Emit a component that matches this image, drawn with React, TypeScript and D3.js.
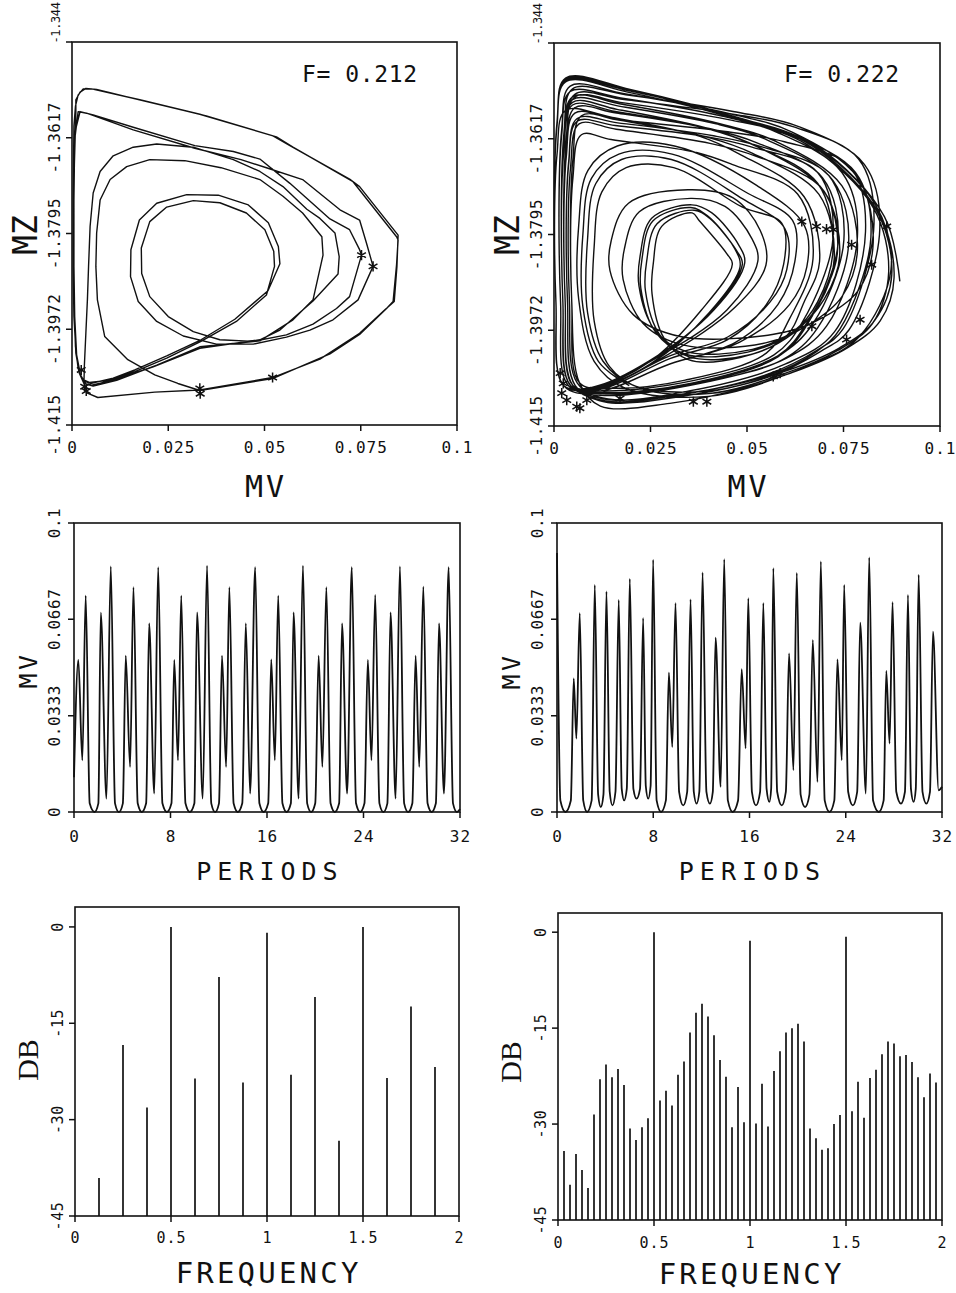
import React from "react";
import * as d3 from "d3";

type P = [number, number];

const MONO = "'DejaVu Sans Mono', 'Liberation Mono', monospace";
const SERIF = "'Liberation Serif', 'DejaVu Serif', serif";
const INK = "#111";

// ---------------- axis ticks / labels ----------------
const portraitXTicks = [0, 0.025, 0.05, 0.075, 0.1];
const portraitXLabels = ["0", "0.025", "0.05", "0.075", "0.1"];
const portraitYTicks = [-1.415, -1.39725, -1.3795, -1.36175, -1.344];
const portraitYLabels = ["-1.415", "-1.3972", "-1.3795", "-1.3617", "-1.344"];

const periodTicks = [0, 8, 16, 24, 32];
const periodLabels = ["0", "8", "16", "24", "32"];
const mvTicks = [0, 0.0333, 0.0667, 0.1];
const mvLabels = ["0", "0.0333", "0.0667", "0.1"];

const freqTicks = [0, 0.5, 1, 1.5, 2];
const freqLabels = ["0", "0.5", "1", "1.5", "2"];
const dbTicks = [-45, -30, -15, 0];
const dbLabels = ["-45", "-30", "-15", "0"];

const forcingLeft = "F= 0.212";
const forcingRight = "F= 0.222";

// ---------------- phase portrait, F = 0.212 (MV, MZ) ----------------
const orbitLeft: P[] = [
  [0.0010,-1.3572],[0.0006,-1.3671],[0.0004,-1.3794],[0.0005,-1.3918],[0.0009,-1.4005],[0.0016,-1.4045],[0.0026,-1.4065],[0.0045,-1.4071],
  [0.0099,-1.4067],[0.0163,-1.4051],[0.0246,-1.4026],[0.0335,-1.3995],[0.0427,-1.3958],[0.0505,-1.3909],[0.0526,-1.3856],
  [0.0524,-1.3828],[0.0501,-1.3788],[0.0453,-1.3757],[0.0384,-1.3738],[0.0315,-1.3734],[0.0246,-1.3746],[0.0202,-1.3773],[0.0180,-1.3822],[0.0181,-1.3869],[0.0202,-1.3912],[0.0250,-1.3949],[0.0315,-1.3977],[0.0384,-1.3992],[0.0471,-1.3995],[0.0557,-1.3983],[0.0626,-1.3963],[0.0687,-1.3934],[0.0721,-1.3912],[0.0752,-1.3835],
  [0.0747,-1.3825],[0.0721,-1.3788],[0.0670,-1.3768],[0.0566,-1.3702],[0.0488,-1.3657],[0.0419,-1.3643],[0.0319,-1.3632],[0.0159,-1.3598],[0.0055,-1.3575],[0.0021,-1.3569],
  [0.0007,-1.3609],[0.0004,-1.3733],[0.0004,-1.3856],[0.0006,-1.3949],[0.0010,-1.4017],[0.0019,-1.4054],[0.0031,-1.4073],[0.0051,-1.4076],
  [0.0107,-1.4067],[0.0211,-1.4042],[0.0332,-1.4008],[0.0488,-1.3992],[0.0540,-1.3974],[0.0626,-1.3920],[0.0691,-1.3870],
  [0.0694,-1.3838],[0.0683,-1.3794],[0.0644,-1.3767],[0.0610,-1.3750],[0.0548,-1.3708],[0.0488,-1.3680],[0.0419,-1.3658],[0.0315,-1.3635],[0.0220,-1.3629],[0.0159,-1.3635],[0.0107,-1.3651],[0.0073,-1.3680],[0.0055,-1.3720],[0.0047,-1.3782],[0.0043,-1.3856],[0.0040,-1.3918],[0.0036,-1.3980],[0.0032,-1.4042],[0.0031,-1.4073],[0.0040,-1.4091],[0.0067,-1.4099],[0.0215,-1.4089],[0.0332,-1.4085],[0.0521,-1.4062],[0.0644,-1.4028],[0.0747,-1.3980],[0.0812,-1.3937],[0.0837,-1.3921],[0.0844,-1.3856],[0.0847,-1.3798],
  [0.0747,-1.3708],[0.0721,-1.3694],[0.0566,-1.3632],[0.0522,-1.3614],[0.0332,-1.3574],[0.0176,-1.3547],[0.0051,-1.3527],[0.0029,-1.3527],[0.0016,-1.3538],[0.0009,-1.3559],
  [0.0005,-1.3596],[0.0003,-1.3733],[0.0003,-1.3856],[0.0005,-1.3949],[0.0010,-1.4011],[0.0017,-1.4048],[0.0029,-1.4068],[0.0048,-1.4073],
  [0.0107,-1.4063],[0.0163,-1.4048],[0.0246,-1.4022],[0.0335,-1.3992],[0.0423,-1.3954],[0.0509,-1.3901],[0.0540,-1.3851],
  [0.0536,-1.3819],[0.0510,-1.3775],[0.0458,-1.3742],[0.0380,-1.3724],[0.0298,-1.3723],[0.0220,-1.3739],[0.0175,-1.3770],[0.0153,-1.3825],[0.0152,-1.3875],[0.0172,-1.3921],[0.0220,-1.3958],[0.0289,-1.3985],[0.0375,-1.4000],[0.0471,-1.4000],[0.0557,-1.3987],[0.0618,-1.3974],[0.0678,-1.3955],[0.0743,-1.3918],[0.0782,-1.3856],
  [0.0765,-1.3813],[0.0747,-1.3770],[0.0696,-1.3751],[0.0599,-1.3695],[0.0509,-1.3674],[0.0439,-1.3658],[0.0319,-1.3637],[0.0159,-1.3603],[0.0038,-1.3572],[0.0016,-1.3569],
  [0.0007,-1.3621],[0.0005,-1.3733],[0.0005,-1.3856],[0.0007,-1.3949],[0.0012,-1.4020],[0.0022,-1.4057],[0.0036,-1.4074],[0.0055,-1.4078],
  [0.0116,-1.4067],[0.0220,-1.4039],[0.0332,-1.4005],[0.0488,-1.3994],[0.0574,-1.3955],[0.0626,-1.3918],[0.0652,-1.3835],
  [0.0649,-1.3801],[0.0599,-1.3757],[0.0548,-1.3726],[0.0488,-1.3695],[0.0387,-1.3673],[0.0293,-1.3660],[0.0202,-1.3658],[0.0142,-1.3671],[0.0099,-1.3695],[0.0073,-1.3733],[0.0064,-1.3794],[0.0062,-1.3856],[0.0066,-1.3918],[0.0085,-1.3986],[0.0145,-1.4029],[0.0215,-1.4057],[0.0275,-1.4073],[0.0332,-1.4086],[0.0521,-1.4064],[0.0670,-1.4018],[0.0747,-1.3982],[0.0817,-1.3934],[0.0834,-1.3921],[0.0843,-1.3853],[0.0847,-1.3807],
  [0.0843,-1.3801],[0.0730,-1.3699],[0.0574,-1.3635],[0.0531,-1.3616],[0.0349,-1.3577],[0.0202,-1.3552],[0.0064,-1.3528],[0.0036,-1.3526],[0.0021,-1.3533],[0.0010,-1.3547],[0.0010,-1.3572],
];
const starsLeft: P[] = [
  [0.0752,-1.3835],[0.0782,-1.3856],[0.0521,-1.4062],[0.0332,-1.4082],[0.0333,-1.4092],[0.0024,-1.4048],[0.0033,-1.4079],[0.0037,-1.4087],
];

// ---------------- phase portrait, F = 0.222 (MV, MZ) ----------------
const orbitRight: P[] = [
  [0.0896,-1.3882],[0.0856,-1.3762],[0.0686,-1.3634],[0.0493,-1.3582],[0.0197,-1.3526],[0.0030,-1.3505],[0.0008,-1.3585],[0.0005,-1.3920],[0.0025,-1.4075],
  [0.0100,-1.4080],[0.0250,-1.4030],[0.0382,-1.3935],
  [0.0462,-1.3850],[0.0447,-1.3830],[0.0377,-1.3770],[0.0358,-1.3755],[0.0279,-1.3780],[0.0257,-1.3850],[0.0254,-1.3905],[0.0285,-1.3987],[0.0348,-1.4027],[0.0482,-1.4023],[0.0600,-1.3985],[0.0648,-1.3920],
  [0.0688,-1.3845],[0.0648,-1.3725],[0.0478,-1.3645],[0.0378,-1.3613],[0.0151,-1.3578],[0.0030,-1.3565],[0.0008,-1.3645],[0.0005,-1.3920],[0.0025,-1.4075],
  [0.0120,-1.4093],[0.0350,-1.4075],[0.0600,-1.4025],[0.0706,-1.3965],
  [0.0786,-1.3800],[0.0746,-1.3680],[0.0576,-1.3605],[0.0432,-1.3575],[0.0173,-1.3542],[0.0042,-1.3530],[0.0020,-1.3610],[0.0017,-1.3920],[0.0037,-1.4075],
  [0.0125,-1.4090],[0.0355,-1.4072],[0.0590,-1.4028],[0.0683,-1.3968],
  [0.0763,-1.3815],[0.0723,-1.3695],[0.0553,-1.3620],[0.0420,-1.3590],[0.0168,-1.3557],[0.0048,-1.3545],[0.0026,-1.3625],[0.0023,-1.3920],[0.0043,-1.4075],
  [0.0130,-1.4088],[0.0360,-1.4070],[0.0580,-1.4020],[0.0654,-1.3960],
  [0.0734,-1.3830],[0.0694,-1.3710],[0.0524,-1.3650],[0.0404,-1.3626],[0.0161,-1.3600],[0.0065,-1.3590],[0.0043,-1.3670],[0.0040,-1.3920],[0.0060,-1.4070],
  [0.0140,-1.4100],[0.0350,-1.4085],[0.0600,-1.4035],[0.0727,-1.3975],
  [0.0807,-1.3790],[0.0767,-1.3670],[0.0597,-1.3623],[0.0444,-1.3604],[0.0178,-1.3583],[0.0071,-1.3575],[0.0049,-1.3655],[0.0046,-1.3920],[0.0066,-1.4070],
  [0.0150,-1.4080],[0.0340,-1.4065],[0.0550,-1.4015],[0.0611,-1.3950],
  [0.0671,-1.3840],[0.0631,-1.3720],[0.0461,-1.3665],[0.0369,-1.3643],[0.0148,-1.3619],[0.0071,-1.3610],[0.0049,-1.3690],[0.0046,-1.3920],[0.0066,-1.4070],
  [0.0120,-1.4113],[0.0300,-1.4108],[0.0500,-1.4078],[0.0670,-1.4035],[0.0790,-1.3985],
  [0.0873,-1.3860],[0.0833,-1.3740],[0.0663,-1.3625],[0.0480,-1.3579],[0.0192,-1.3528],[0.0030,-1.3510],[0.0008,-1.3590],[0.0005,-1.3920],[0.0025,-1.4075],
  [0.0100,-1.4082],[0.0250,-1.4035],[0.0402,-1.3940],
  [0.0482,-1.3855],[0.0467,-1.3820],[0.0397,-1.3760],[0.0354,-1.3745],[0.0256,-1.3770],[0.0228,-1.3840],[0.0225,-1.3895],[0.0264,-1.3977],[0.0341,-1.4017],[0.0502,-1.4013],[0.0620,-1.3975],[0.0683,-1.3920],
  [0.0723,-1.3820],[0.0683,-1.3700],[0.0513,-1.3628],[0.0398,-1.3599],[0.0159,-1.3567],[0.0048,-1.3555],[0.0026,-1.3635],[0.0023,-1.3920],[0.0043,-1.4075],
  [0.0130,-1.4090],[0.0360,-1.4072],[0.0580,-1.4022],[0.0656,-1.3962],
  [0.0736,-1.3810],[0.0696,-1.3690],[0.0526,-1.3625],[0.0405,-1.3599],[0.0162,-1.3570],[0.0054,-1.3560],[0.0032,-1.3640],[0.0029,-1.3920],[0.0049,-1.4075],
  [0.0130,-1.4103],[0.0330,-1.4092],[0.0550,-1.4055],[0.0680,-1.4010],[0.0749,-1.3970],
  [0.0829,-1.3775],[0.0789,-1.3655],[0.0619,-1.3595],[0.0456,-1.3571],[0.0182,-1.3545],[0.0054,-1.3535],[0.0032,-1.3615],[0.0029,-1.3920],[0.0049,-1.4075],
  [0.0120,-1.4080],[0.0300,-1.4020],[0.0450,-1.3985],[0.0560,-1.3920],
  [0.0603,-1.3860],[0.0598,-1.3784],[0.0489,-1.3729],[0.0304,-1.3656],[0.0175,-1.3656],[0.0108,-1.3701],[0.0087,-1.3803],[0.0087,-1.3940],[0.0127,-1.4030],[0.0207,-1.4075],
  [0.0400,-1.4085],[0.0600,-1.4048],[0.0740,-1.4005],[0.0830,-1.3955],
  [0.0875,-1.3870],[0.0835,-1.3750],[0.0665,-1.3629],[0.0481,-1.3581],[0.0193,-1.3527],[0.0030,-1.3508],[0.0008,-1.3588],[0.0005,-1.3920],[0.0025,-1.4075],
  [0.0100,-1.4078],[0.0250,-1.4028],[0.0414,-1.3935],
  [0.0494,-1.3848],[0.0479,-1.3815],[0.0409,-1.3755],[0.0357,-1.3740],[0.0253,-1.3765],[0.0223,-1.3835],[0.0220,-1.3890],[0.0261,-1.3972],[0.0343,-1.4012],[0.0514,-1.4008],[0.0630,-1.3970],[0.0700,-1.3915],
  [0.0740,-1.3835],[0.0700,-1.3715],[0.0530,-1.3633],[0.0407,-1.3600],[0.0163,-1.3563],[0.0048,-1.3550],[0.0026,-1.3630],[0.0023,-1.3920],[0.0043,-1.4075],
  [0.0130,-1.4085],[0.0360,-1.4066],[0.0570,-1.4018],[0.0643,-1.3958],
  [0.0723,-1.3800],[0.0683,-1.3680],[0.0513,-1.3633],[0.0398,-1.3614],[0.0159,-1.3593],[0.0060,-1.3585],[0.0038,-1.3665],[0.0035,-1.3920],[0.0055,-1.4075],
  [0.0130,-1.4105],[0.0340,-1.4094],[0.0560,-1.4058],[0.0690,-1.4012],[0.0764,-1.3972],
  [0.0844,-1.3785],[0.0804,-1.3665],[0.0634,-1.3595],[0.0464,-1.3567],[0.0186,-1.3536],[0.0048,-1.3525],[0.0026,-1.3605],[0.0023,-1.3920],[0.0043,-1.4075],
  [0.0110,-1.4080],[0.0260,-1.4032],[0.0469,-1.3930],
  [0.0549,-1.3852],[0.0534,-1.3787],[0.0464,-1.3727],[0.0347,-1.3712],[0.0193,-1.3737],[0.0148,-1.3807],[0.0145,-1.3862],[0.0206,-1.3944],[0.0327,-1.3984],[0.0569,-1.3980],[0.0680,-1.3955],[0.0787,-1.3900],
  [0.0827,-1.3810],[0.0787,-1.3690],[0.0617,-1.3605],[0.0455,-1.3571],[0.0182,-1.3534],[0.0042,-1.3520],[0.0020,-1.3600],[0.0017,-1.3920],[0.0037,-1.4075],
  [0.0120,-1.4082],[0.0300,-1.4025],[0.0450,-1.3990],[0.0550,-1.3925],
  [0.0595,-1.3850],[0.0590,-1.3774],[0.0487,-1.3744],[0.0310,-1.3671],[0.0187,-1.3671],[0.0124,-1.3716],[0.0104,-1.3818],[0.0104,-1.3955],[0.0144,-1.4040],[0.0224,-1.4080],
  [0.0400,-1.4090],[0.0600,-1.4052],[0.0735,-1.4010],[0.0825,-1.3960],
  [0.0867,-1.3865],[0.0827,-1.3745],[0.0657,-1.3629],[0.0477,-1.3582],[0.0191,-1.3531],[0.0030,-1.3512],[0.0008,-1.3592],[0.0005,-1.3920],[0.0025,-1.4075],
  [0.0100,-1.4080],[0.0250,-1.4030],[0.0448,-1.3935],
  [0.0528,-1.3845],[0.0513,-1.3803],[0.0443,-1.3743],[0.0354,-1.3728],[0.0221,-1.3753],[0.0182,-1.3823],[0.0179,-1.3878],[0.0231,-1.3960],[0.0336,-1.4000],[0.0548,-1.3996],[0.0660,-1.3962],[0.0746,-1.3910],
  [0.0786,-1.3825],[0.0746,-1.3705],[0.0576,-1.3623],[0.0432,-1.3590],[0.0173,-1.3553],[0.0048,-1.3540],[0.0026,-1.3620],[0.0023,-1.3920],[0.0043,-1.4075],
  [0.0120,-1.4085],[0.0300,-1.4035],[0.0480,-1.3995],[0.0610,-1.3925],
  [0.0655,-1.3855],[0.0649,-1.3779],[0.0525,-1.3704],[0.0312,-1.3631],[0.0164,-1.3631],[0.0088,-1.3676],[0.0064,-1.3778],[0.0064,-1.3915],[0.0104,-1.4030],[0.0184,-1.4080],
  [0.0400,-1.4095],[0.0620,-1.4050],[0.0760,-1.4005],[0.0845,-1.3955],
  [0.0881,-1.3875],[0.0841,-1.3755],[0.0671,-1.3631],[0.0485,-1.3581],[0.0194,-1.3527],[0.0030,-1.3507],[0.0008,-1.3587],[0.0005,-1.3920],[0.0025,-1.4075],
  [0.0100,-1.4078],[0.0250,-1.4030],[0.0408,-1.3938],
  [0.0488,-1.3850],[0.0473,-1.3825],[0.0403,-1.3765],[0.0363,-1.3750],[0.0267,-1.3775],[0.0240,-1.3845],[0.0237,-1.3900],[0.0275,-1.3982],[0.0350,-1.4022],[0.0508,-1.4018],[0.0620,-1.3978],[0.0686,-1.3925],
  [0.0726,-1.3840],[0.0686,-1.3720],[0.0516,-1.3645],[0.0399,-1.3615],[0.0160,-1.3582],[0.0054,-1.3570],[0.0032,-1.3650],[0.0029,-1.3920],[0.0049,-1.4075],
  [0.0130,-1.4088],[0.0360,-1.4070],[0.0580,-1.4020],[0.0671,-1.3960],
  [0.0751,-1.3805],[0.0711,-1.3685],[0.0541,-1.3633],[0.0413,-1.3612],[0.0165,-1.3588],[0.0060,-1.3580],[0.0038,-1.3660],[0.0035,-1.3920],[0.0055,-1.4075],
  [0.0130,-1.4100],[0.0340,-1.4090],[0.0560,-1.4055],[0.0680,-1.4012],[0.0741,-1.3970],
  [0.0821,-1.3800],[0.0781,-1.3680],[0.0611,-1.3610],[0.0452,-1.3582],[0.0181,-1.3551],[0.0054,-1.3540],[0.0032,-1.3620],[0.0029,-1.3920],[0.0049,-1.4075],
  [0.0120,-1.4085],[0.0300,-1.4035],[0.0470,-1.3995],[0.0580,-1.3925],
  [0.0624,-1.3845],[0.0618,-1.3769],[0.0503,-1.3719],[0.0306,-1.3646],[0.0168,-1.3646],[0.0097,-1.3691],[0.0075,-1.3793],[0.0075,-1.3930],[0.0115,-1.4030],[0.0195,-1.4075],
];
const starsRight: P[] = [
  [0.0642,-1.3771],[0.0680,-1.3780],[0.0706,-1.3785],[0.0724,-1.3786],[0.0771,-1.3814],[0.0823,-1.3851],
  [0.0862,-1.3780],[0.0793,-1.3953],[0.0758,-1.3990],[0.0668,-1.3965],[0.0586,-1.4052],[0.0568,-1.4058],
  [0.0361,-1.4105],[0.0396,-1.4105],[0.0059,-1.4114],[0.0033,-1.4102],[0.0020,-1.4089],[0.0024,-1.4071],
  [0.0016,-1.4052],[0.0067,-1.4117],[0.0085,-1.4102],[0.0171,-1.4099],
];

// ---------------- MV time series (periods, MV) ----------------
const seriesLeft: P[] = [
  [0, 0.012],[0.36, 0.0526],[0.69, 0.0179],[0.97, 0.0749],[1.30, 0.003],[1.70, 0],[2.02, 0.003],
  [2.22, 0.0690],[2.69, 0.0046],[3.05, 0.0850],[3.40, 0.003],[3.72, 0],[4.05, 0.003],
  [4.29, 0.0541],[4.65, 0.0156],[4.93, 0.0778],[5.28, 0.003],[5.62, 0],[5.98, 0.003],
  [6.23, 0.0653],[6.65, 0.0064],[6.98, 0.0847],[7.33, 0.003],[7.70, 0],[8.08, 0.003],
  [8.31, 0.0526],[8.62, 0.0179],[8.89, 0.0749],[9.24, 0.003],[9.60, 0],[9.98, 0.003],
  [10.20, 0.0691],[10.67, 0.0046],[11.03, 0.0852],[11.38, 0.003],[11.70, 0],[12.02, 0.003],
  [12.27, 0.0541],[12.61, 0.0156],[12.88, 0.0778],[13.23, 0.003],[13.58, 0],[13.95, 0.003],
  [14.24, 0.0653],[14.60, 0.0064],[15.02, 0.0847],[15.37, 0.003],[15.72, 0],[16.10, 0.003],
  [16.35, 0.0528],[16.65, 0.0179],[16.93, 0.0749],[17.28, 0.003],[17.62, 0],[17.98, 0.003],
  [18.20, 0.0691],[18.62, 0.0046],[18.98, 0.0852],[19.33, 0.003],[19.66, 0],[20.00, 0.003],
  [20.28, 0.0541],[20.59, 0.0156],[20.92, 0.0778],[21.27, 0.003],[21.62, 0],[21.98, 0.003],
  [22.22, 0.0653],[22.64, 0.0064],[23.03, 0.0847],[23.38, 0.003],[23.72, 0],[24.08, 0.003],
  [24.36, 0.0526],[24.66, 0.0179],[24.97, 0.0751],[25.32, 0.003],[25.65, 0],[25.98, 0.003],
  [26.24, 0.0691],[26.66, 0.0046],[27.02, 0.0850],[27.37, 0.003],[27.70, 0],[28.05, 0.003],
  [28.32, 0.0541],[28.62, 0.0156],[28.96, 0.0780],[29.31, 0.003],[29.65, 0],[30.00, 0.003],
  [30.26, 0.0653],[30.67, 0.0064],[31.06, 0.0847],[31.42, 0.003],[31.75, 0],[32.0, 0.001],
];
const seriesRight: P[] = [
  [0, 0.0896],[0.28, 0.004],[0.70, 0],[1.15, 0.004],
  [1.39, 0.0462],[1.61, 0.0254],[1.89, 0.0688],[2.18, 0.004],[2.50, 0],[2.88, 0.004],
  [3.14, 0.0786],[3.42, 0.006],[3.64, 0.0017],[3.86, 0.006],
  [4.11, 0.0763],[4.38, 0.007],[4.61, 0.0023],[4.86, 0.007],
  [5.13, 0.0734],[5.38, 0.008],[5.58, 0.0040],[5.80, 0.008],
  [6.05, 0.0807],[6.35, 0.008],[6.61, 0.0046],[6.90, 0.008],
  [7.16, 0.0671],[7.38, 0.009],[7.58, 0.0046],[7.78, 0.009],
  [7.99, 0.0873],[8.28, 0.004],[8.65, 0],[9.05, 0.004],
  [9.30, 0.0482],[9.58, 0.0225],[9.85, 0.0723],[10.15, 0.007],[10.49, 0.0023],[10.82, 0.007],
  [11.10, 0.0736],[11.37, 0.007],[11.60, 0.0029],[11.83, 0.007],
  [12.10, 0.0829],[12.42, 0.007],[12.71, 0.0029],[12.95, 0.007],
  [13.18, 0.0603],[13.60, 0.0087],[13.90, 0.0875],[14.20, 0.004],[14.60, 0],[15.05, 0.004],
  [15.35, 0.0494],[15.68, 0.0220],[15.90, 0.0740],[16.20, 0.007],[16.54, 0.0023],[16.88, 0.007],
  [17.15, 0.0723],[17.42, 0.008],[17.65, 0.0035],[17.80, 0.008],
  [17.98, 0.0844],[18.30, 0.007],[18.68, 0.0023],[19.02, 0.007],
  [19.29, 0.0549],[19.65, 0.0145],[19.93, 0.0827],[20.25, 0.006],[20.62, 0.0017],[20.98, 0.006],
  [21.26, 0.0595],[21.65, 0.0104],[21.93, 0.0867],[22.25, 0.004],[22.65, 0],[23.05, 0.004],
  [23.31, 0.0528],[23.67, 0.0179],[23.87, 0.0786],[24.20, 0.007],[24.59, 0.0023],[24.95, 0.007],
  [25.20, 0.0655],[25.67, 0.0064],[25.95, 0.0881],[26.27, 0.004],[26.75, 0],[27.15, 0.004],
  [27.37, 0.0488],[27.64, 0.0237],[27.89, 0.0726],[28.20, 0.007],[28.59, 0.0029],[28.92, 0.007],
  [29.17, 0.0751],[29.42, 0.008],[29.64, 0.0035],[29.82, 0.008],
  [30.06, 0.0821],[30.38, 0.007],[30.70, 0.0029],[31.00, 0.007],
  [31.25, 0.0624],[31.72, 0.0075],[32.0, 0.0087],
];

// ---------------- power spectra (frequency, dB) ----------------
const specLeftFreq = [0.125, 0.25, 0.375, 0.5, 0.625, 0.75, 0.875, 1, 1.125, 1.25, 1.375, 1.5, 1.625, 1.75, 1.875];
const specLeftDb = [-39.1, -18.4, -28.1, 0, -23.6, -7.8, -24.2, -0.9, -23.0, -10.9, -33.3, 0, -23.5, -12.4, -21.8];
const specRightFreq = d3.range(1, 64).map((k) => k / 32);
const specRightDb = [
  -34.2, -39.5, -34.7, -37.2, -40.0, -28.5, -23.0, -20.7, -22.7, -21.4, -23.9, -30.7, -32.5, -30.5, -29.1, 0,
  -26.3, -24.8, -27.1, -22.3, -20.2, -15.7, -12.6, -11.2, -13.2, -16.1, -20.0, -22.6, -30.5, -24.2, -29.7, -1.35,
  -29.9, -23.7, -30.4, -21.7, -18.6, -15.7, -15.0, -14.3, -17.1, -30.7, -32.2, -34.0, -33.8, -30.0, -28.6, -0.7,
  -28.0, -23.4, -29.0, -22.8, -21.5, -19.1, -17.1, -17.4, -19.4, -19.2, -20.3, -22.7, -25.8, -22.1, -23.5,
];

// ---------------- layout ----------------
type Box = { x0: number; x1: number; y0: number; y1: number };

type AxesProps = {
  box: Box;
  xs: d3.ScaleLinear<number, number>;
  ys: d3.ScaleLinear<number, number>;
  xTicks: number[];
  xLabels: string[];
  yTicks: number[];
  yLabels: string[];
  tickSize: number;
  xLabelDy: number;
  yLabelDx: number;
  topStart?: boolean;
  xTitle: string;
  xTitleY: number;
  xTitleSize: number;
  xTitleSpacing: number;
  yTitle: string;
  yTitleX: number;
  yTitleY: number;
  yTitleSize: number;
  yTitleSpacing: number;
  yTitleFont?: string;
};

function Axes(p: AxesProps) {
  const { box } = p;
  const cx = (box.x0 + box.x1) / 2;
  return (
    <g fill={INK}>
      <rect x={box.x0} y={box.y0} width={box.x1 - box.x0} height={box.y1 - box.y0} fill="none" stroke={INK} strokeWidth={1.6} />
      {p.xTicks.map((t, i) => (
        <g key={"xt" + i}>
          <line x1={p.xs(t)} x2={p.xs(t)} y1={box.y1} y2={box.y1 + 6} stroke={INK} strokeWidth={1.5} />
          <text x={p.xs(t) + 0.5} y={box.y1 + p.xLabelDy} textAnchor="middle" fontSize={p.tickSize} letterSpacing={1} fontFamily={MONO}>
            {p.xLabels[i]}
          </text>
        </g>
      ))}
      {p.yTicks.map((t, i) => {
        const isTop = p.topStart && i === p.yTicks.length - 1;
        return (
          <g key={"yt" + i}>
            <line x1={box.x0 - 6} x2={box.x0} y1={p.ys(t)} y2={p.ys(t)} stroke={INK} strokeWidth={1.5} />
            <text
              transform={`translate(${box.x0 - p.yLabelDx},${isTop ? p.ys(t) - 19 : p.ys(t)}) rotate(-90)`}
              textAnchor="middle"
              fontSize={isTop ? 12 : p.tickSize}
              letterSpacing={isTop ? -0.4 : 0.6}
              fontFamily={MONO}
            >
              {p.yLabels[i]}
            </text>
          </g>
        );
      })}
      <text x={cx + p.xTitleSpacing / 2} y={p.xTitleY} textAnchor="middle" fontSize={p.xTitleSize} letterSpacing={p.xTitleSpacing} fontFamily={MONO}>
        {p.xTitle}
      </text>
      <text
        transform={`translate(${p.yTitleX},${p.yTitleY}) rotate(-90)`}
        textAnchor="middle"
        fontSize={p.yTitleSize}
        letterSpacing={p.yTitleSpacing}
        fontFamily={p.yTitleFont ?? MONO}
      >
        {p.yTitle}
      </text>
    </g>
  );
}

const starType: d3.SymbolType = (d3 as any).symbolAsterisk ?? d3.symbolCross;

function Portrait({ box, orbit, stars, fLabel, smooth }: { box: Box; orbit: P[]; stars: P[]; fLabel: string; smooth: boolean }) {
  const xs = d3.scaleLinear().domain([0, 0.1]).range([box.x0, box.x1]);
  const ys = d3.scaleLinear().domain([-1.415, -1.344]).range([box.y1, box.y0]);
  const line = d3
    .line<P>()
    .x((d) => xs(d[0]))
    .y((d) => ys(d[1]))
    .curve(smooth ? d3.curveCatmullRom.alpha(0.5) : d3.curveLinear);
  const sym = d3.symbol().type(starType).size(72);
  return (
    <g>
      <path d={line(orbit) ?? ""} fill="none" stroke={INK} strokeWidth={1.4} strokeLinejoin="round" />
      {stars.map((s, i) => (
        <path key={i} d={sym() ?? ""} transform={`translate(${xs(s[0])},${ys(s[1])})`} fill="none" stroke={INK} strokeWidth={1.5} />
      ))}
      <Axes
        box={box}
        xs={xs}
        ys={ys}
        xTicks={portraitXTicks}
        xLabels={portraitXLabels}
        yTicks={portraitYTicks}
        yLabels={portraitYLabels}
        tickSize={16}
        xLabelDy={28}
        yLabelDx={12}
        topStart
        xTitle="MV"
        xTitleY={497}
        xTitleSize={30}
        xTitleSpacing={3}
        yTitle="MZ"
        yTitleX={box.x0 - 35}
        yTitleY={235}
        yTitleSize={33}
        yTitleSpacing={0}
      />
      <text x={box.x0 + 230} y={82} fontSize={23} letterSpacing={0.6} fontFamily={MONO} fill={INK}>
        {fLabel}
      </text>
    </g>
  );
}

function Series({ box, data, titleY }: { box: Box; data: P[]; titleY: number }) {
  const xs = d3.scaleLinear().domain([0, 32]).range([box.x0, box.x1]);
  const ys = d3.scaleLinear().domain([0, 0.1]).range([box.y1, box.y0]);
  const line = d3
    .line<P>()
    .x((d) => xs(d[0]))
    .y((d) => ys(d[1]))
    .curve(d3.curveMonotoneX);
  return (
    <g>
      <path d={line(data) ?? ""} fill="none" stroke={INK} strokeWidth={1.8} strokeLinejoin="round" />
      <Axes
        box={box}
        xs={xs}
        ys={ys}
        xTicks={periodTicks}
        xLabels={periodLabels}
        yTicks={mvTicks}
        yLabels={mvLabels}
        tickSize={16}
        xLabelDy={30}
        yLabelDx={14}
        xTitle="PERIODS"
        xTitleY={880}
        xTitleSize={25}
        xTitleSpacing={6}
        yTitle="MV"
        yTitleX={box.x0 - 37}
        yTitleY={titleY}
        yTitleSize={25}
        yTitleSpacing={3.5}
      />
    </g>
  );
}

function Spectrum({ box, freq, db, top, xLabelDy, titleY, titleBase }: { box: Box; freq: number[]; db: number[]; top: number; xLabelDy: number; titleY: number; titleBase: number }) {
  const xs = d3.scaleLinear().domain([0, 2]).range([box.x0, box.x1]);
  const ys = d3.scaleLinear().domain([-45, top]).range([box.y1, box.y0]);
  return (
    <g>
      {freq.map((f, i) => (
        <line key={i} x1={xs(f)} x2={xs(f)} y1={ys(-45)} y2={ys(db[i])} stroke={INK} strokeWidth={1.7} />
      ))}
      <Axes
        box={box}
        xs={xs}
        ys={ys}
        xTicks={freqTicks}
        xLabels={freqLabels}
        yTicks={dbTicks}
        yLabels={dbLabels}
        tickSize={15}
        xLabelDy={xLabelDy}
        yLabelDx={12}
        xTitle="FREQUENCY"
        xTitleY={titleBase}
        xTitleSize={29}
        xTitleSpacing={3.2}
        yTitle="DB"
        yTitleX={box.x0 - 37}
        yTitleY={titleY}
        yTitleSize={30}
        yTitleSpacing={0}
        yTitleFont={SERIF}
      />
    </g>
  );
}

export default function App() {
  const P1: Box = { x0: 72, x1: 457, y0: 42, y1: 425 };
  const P2: Box = { x0: 554, x1: 940, y0: 43, y1: 426 };
  const P3: Box = { x0: 74, x1: 460, y0: 523, y1: 812 };
  const P4: Box = { x0: 557, x1: 942, y0: 523, y1: 812 };
  const P5: Box = { x0: 75, x1: 459, y0: 907, y1: 1216 };
  const P6: Box = { x0: 558, x1: 942, y0: 913, y1: 1220 };
  return (
    <svg
      width={956}
      height={1293}
      viewBox="0 0 956 1293"
      style={{ position: "absolute", left: 0, top: 0, display: "block" }}
    >
      <rect x={0} y={0} width={956} height={1293} fill="#fff" />
      <Portrait box={P1} orbit={orbitLeft} stars={starsLeft} fLabel={forcingLeft} smooth={false} />
      <Portrait box={P2} orbit={orbitRight} stars={starsRight} fLabel={forcingRight} smooth={true} />
      <Series box={P3} data={seriesLeft} titleY={670} />
      <Series box={P4} data={seriesRight} titleY={671} />
      <Spectrum box={P5} freq={specLeftFreq} db={specLeftDb} top={3.1} xLabelDy={27} titleY={1060} titleBase={1283} />
      <Spectrum box={P6} freq={specRightFreq} db={specRightDb} top={3} xLabelDy={28} titleY={1062} titleBase={1284} />
    </svg>
  );
}
